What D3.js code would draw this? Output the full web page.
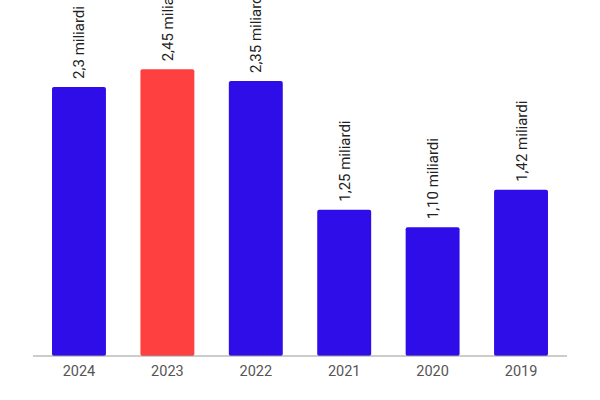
<!DOCTYPE html>
<html>
<head>
<meta charset="UTF-8" />
<title>miliardi</title>
<script src="https://cdn.jsdelivr.net/npm/d3@7"></script>
<style>
body{margin:0;background:#fff;}
text{font-family:Roboto,"Noto Sans",sans-serif;}
</style>
</head>
<body>
<div id="chart"></div>
<script>
var w=600,h=400;
var years=['2024','2023','2022','2021','2020','2019'];
var values=[2.3,2.45,2.35,1.25,1.10,1.42];
var labels=['2,3 miliardi','2,45 miliardi','2,35 miliardi','1,25 miliardi','1,10 miliardi','1,42 miliardi'];
var colors=['#2e0de8','#fe4040','#2e0de8','#2e0de8','#2e0de8','#2e0de8'];

var svg=d3.select('#chart').append('svg')
  .attr('width',w)
  .attr('height',h);

var x=d3.scaleBand().domain(years).range([33,567]).paddingInner(0.39).paddingOuter(0.215);
var y=d3.scaleLinear().domain([0,3]).range([356,5]);

svg.selectAll('rect.bar')
  .data(values)
  .enter()
  .append('rect')
  .attr('class','bar')
  .attr('x',function(d,i){return x(years[i]);})
  .attr('y',function(d){return y(d);})
  .attr('width',x.bandwidth())
  .attr('height',function(d){return y(0)-y(d);})
  .attr('rx',2)
  .attr('fill',function(d,i){return colors[i];});

svg.selectAll('text.lbl')
  .data(values)
  .enter()
  .append('text')
  .attr('class','lbl')
  .attr('transform',function(d,i){
    return 'translate('+(x(years[i])+x.bandwidth()/2+5.5)+','+(y(d)-8)+') rotate(-90)';
  })
  .attr('font-size',15)
  .attr('fill','#222')
  .text(function(d,i){return labels[i];});

var axis=d3.axisBottom(x).tickSize(0).tickPadding(10);
var g=svg.append('g').attr('transform','translate(0,356)').call(axis);
g.select('.domain').attr('stroke','#999').attr('d','M33,0H567');
g.selectAll('text').attr('font-size',14.5).attr('fill','#555').attr('font-family','Roboto,sans-serif');
</script>
</body>
</html>
